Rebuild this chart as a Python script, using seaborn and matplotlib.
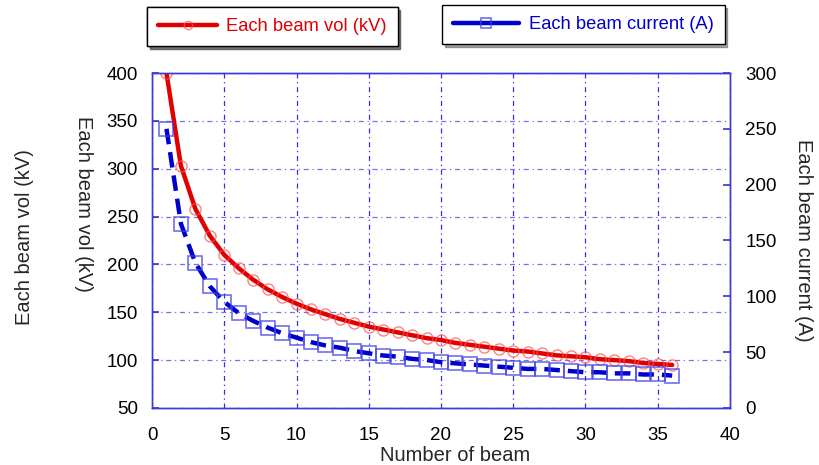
import numpy as np
import pandas as pd
import matplotlib
matplotlib.use("Agg")
import matplotlib.pyplot as plt
from matplotlib.lines import Line2D
import seaborn as sns

beams = list(range(1, 37))
voltage_kv = [400, 303, 258, 230, 210, 196, 184, 174, 166, 159, 153, 148, 143, 139,
              135, 132, 129, 126, 123, 121, 118, 116, 114, 112, 110, 109, 107, 105,
              104, 103, 101, 100, 99, 97, 96, 95]
current_a = [250, 165, 130, 109, 95, 85, 78, 72, 67, 63, 59, 56, 54, 51, 49, 47,
             46, 44, 43, 41, 40, 39, 38, 37, 36, 35, 35, 34, 33, 32, 32, 31, 31,
             30, 30, 29]
x_ticks = [0, 5, 10, 15, 20, 25, 30, 35, 40]
left_ticks = [50, 100, 150, 200, 250, 300, 350, 400]
right_ticks = [0, 50, 100, 150, 200, 250, 300]

sns.set_theme(style="white")
plt.rcParams['font.family'] = ['Liberation Sans', 'DejaVu Sans']

df = pd.DataFrame({"beam": beams, "vol": voltage_kv, "cur": current_a})

fig = plt.figure(figsize=(8.2, 4.65), dpi=100)
ax = fig.add_axes([0.1854, 0.1226, 0.7048, 0.7204])
ax2 = ax.twinx()

red = "#E00000"
blue = "#0000CC"
spine_c = "#3A3AD8"
red_mk = (1, 0.3, 0.3, 0.7)
blue_mk = (0.25, 0.25, 0.9, 0.75)

sns.lineplot(data=df, x="beam", y="vol", ax=ax, color=red, linewidth=3.2,
             marker="o", markersize=8, markerfacecolor="none",
             markeredgecolor=red_mk, markeredgewidth=1.0,
             legend=False)
sns.lineplot(data=df, x="beam", y="cur", ax=ax2, color=blue, linewidth=3.2,
             marker="s", markersize=10, markerfacecolor="none",
             markeredgecolor=blue_mk, markeredgewidth=1.2,
             dashes=False, legend=False)
ax2.lines[0].set_dashes([3.5, 1.8])

ax.set_xlim(0, 40)
ax.set_ylim(50, 400)
ax2.set_ylim(0, 300)
ax.set_xticks(x_ticks)
ax.set_yticks(left_ticks)
ax2.set_yticks(right_ticks)
ax.tick_params(axis='y', direction='in', length=5, color=spine_c,
               labelsize=13.5, labelcolor='black', pad=10)
ax.tick_params(axis='x', direction='in', length=5, color=spine_c,
               labelsize=13.5, labelcolor='black', pad=14)
ax2.tick_params(axis='y', direction='in', length=5, color=spine_c,
                labelsize=13.5, labelcolor='black', pad=11)

for a in (ax, ax2):
    for s in a.spines.values():
        s.set_color(spine_c)
        s.set_linewidth(1.0)

ax.grid(True, axis='y', linestyle=(0, (4, 3, 1, 3)), color="#7070F0", linewidth=0.9)
ax.grid(True, axis='x', linestyle=(0, (4, 3, 1, 3)), color="#3030E0", linewidth=0.9)
ax.set_axisbelow(True)
ax2.grid(False)

ax.set_xlabel("")
ax.set_ylabel("")
ax2.set_ylabel("")
fig.text(0.555, 0.020, "Number of beam", ha='center', va='center', fontsize=14.5)
fig.text(0.030, 0.49, "Each beam vol (kV)", ha='center', va='center',
         rotation=90, fontsize=14.5)
fig.text(0.102, 0.561, "Each beam vol (kV)", ha='center', va='center',
         rotation=270, fontsize=14.5)
fig.text(0.980, 0.484, "Each beam current (A)", ha='center', va='center',
         rotation=270, fontsize=14.5)

h1 = Line2D([], [], color=red, linewidth=3.2, marker="o", markersize=6,
            markerfacecolor="none", markeredgecolor=red_mk, markeredgewidth=1.0)
h2 = Line2D([], [], color=blue, linewidth=3.2, marker="s", markersize=7,
            markerfacecolor="none", markeredgecolor=blue_mk, markeredgewidth=1.2)
leg1 = fig.legend([h1], ["Each beam vol (kV)"], loc='upper center',
                  bbox_to_anchor=(0.3323, 0.985), frameon=True, fancybox=False,
                  shadow=True, edgecolor='black', framealpha=1, fontsize=13.2,
                  handlelength=3.2, borderpad=0.6, handletextpad=0.5,
                  borderaxespad=0)
for t in leg1.get_texts():
    t.set_color(red)
fig.add_artist(leg1)
leg2 = fig.legend([h2], ["Each beam current (A)"], loc='upper center',
                  bbox_to_anchor=(0.7116, 0.989), frameon=True, fancybox=False,
                  shadow=True, edgecolor='black', framealpha=1, fontsize=13.2,
                  handlelength=3.6, borderpad=0.6, handletextpad=0.5,
                  borderaxespad=0)
for t in leg2.get_texts():
    t.set_color(blue)

fig.savefig("out.png", dpi=100)
